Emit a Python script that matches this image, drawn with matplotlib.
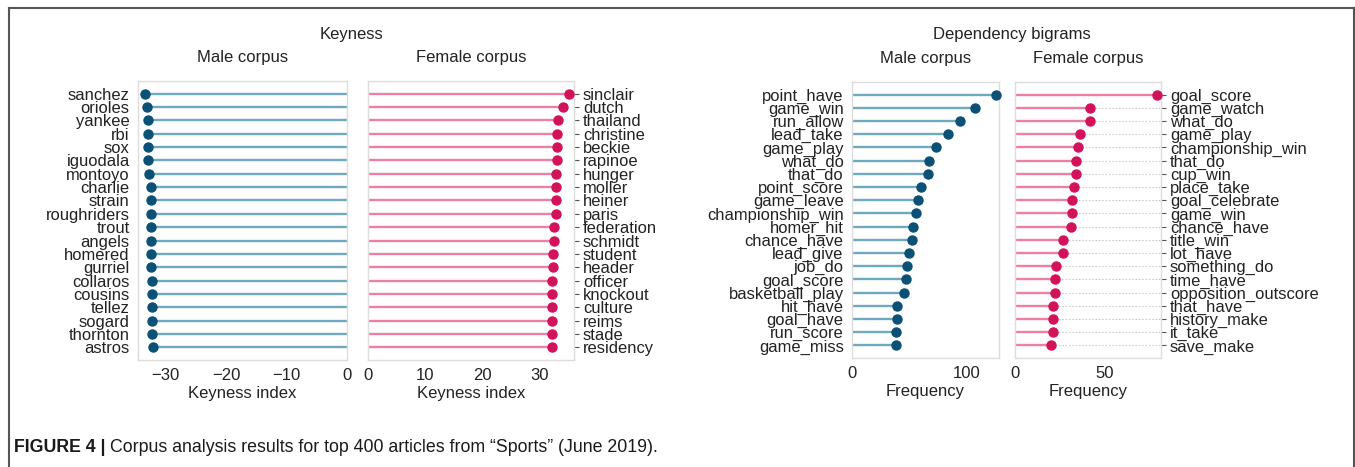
import matplotlib.pyplot as plt
from matplotlib.lines import Line2D
import numpy as np

plt.rcParams['font.family'] = ['Liberation Sans', 'DejaVu Sans']

# Keyness, male corpus
male_words = ['sanchez', 'orioles', 'yankee', 'rbi', 'sox', 'iguodala', 'montoyo',
              'charlie', 'strain', 'roughriders', 'trout', 'angels', 'homered',
              'gurriel', 'collaros', 'cousins', 'tellez', 'sogard', 'thornton', 'astros']
male_keyness = [-33.4, -33.1, -33.0, -33.0, -32.9, -32.9, -32.7, -32.5, -32.5, -32.5,
                -32.5, -32.5, -32.4, -32.4, -32.3, -32.3, -32.3, -32.3, -32.3, -32.1]

# Keyness, female corpus
female_words = ['sinclair', 'dutch', 'thailand', 'christine', 'beckie', 'rapinoe',
                'hunger', 'moller', 'heiner', 'paris', 'federation', 'schmidt',
                'student', 'header', 'officer', 'knockout', 'culture', 'reims',
                'stade', 'residency']
female_keyness = [35.2, 34.2, 33.3, 33.1, 33.1, 33.1, 33.0, 32.9, 32.9, 32.9,
                  32.6, 32.6, 32.5, 32.5, 32.3, 32.3, 32.3, 32.3, 32.3, 32.2]

# Dependency bigrams, male corpus
male_bigrams = ['point_have', 'game_win', 'run_allow', 'lead_take', 'game_play',
                'what_do', 'that_do', 'point_score', 'game_leave', 'championship_win',
                'homer_hit', 'chance_have', 'lead_give', 'job_do', 'goal_score',
                'basketball_play', 'hit_have', 'goal_have', 'run_score', 'game_miss']
male_freq = [126, 107, 94, 84, 73, 67, 66, 60, 58, 56, 53, 52, 50, 48, 47, 45, 39, 39, 38, 38]

# Dependency bigrams, female corpus
female_bigrams = ['goal_score', 'game_watch', 'what_do', 'game_play', 'championship_win',
                  'that_do', 'cup_win', 'place_take', 'goal_celebrate', 'game_win',
                  'chance_have', 'title_win', 'lot_have', 'something_do', 'time_have',
                  'opposition_outscore', 'that_have', 'history_make', 'it_take', 'save_make']
female_freq = [79, 42, 42, 36, 35, 34, 34, 33, 32, 32, 31, 27, 27, 23, 22, 22, 21, 21, 21, 20]

MALE_LINE, MALE_DOT = '#6fa9c0', '#0b5176'
FEM_LINE, FEM_DOT = '#ec7fa5', '#d2125a'
TICK_FS = 11.9
LAB_FS = 12


def lollipop(ax, labels, values, line_c, dot_c, xlim, side, xlabel, xticks, title, grid=False):
    y = np.arange(len(labels))
    ax.hlines(y, 0, values, color=line_c, lw=1.7, zorder=2)
    ax.plot(values, y, 'o', color=dot_c, ms=6.5, zorder=3, clip_on=False)
    ax.set_xlim(*xlim)
    ax.set_ylim(len(labels) - 1 + 0.95, -0.95)
    ax.set_yticks(y)
    ax.set_yticklabels(labels, fontsize=TICK_FS, color='#222222')
    ax.set_xticks(xticks)
    ax.tick_params(axis='x', length=0, pad=6, labelsize=LAB_FS, labelcolor='#222222')
    if side == 'right':
        ax.yaxis.tick_right()
        ax.tick_params(axis='y', length=3.5, width=0.8, color='#555555', pad=3)
    else:
        ax.tick_params(axis='y', length=0, pad=6)
    for s in ax.spines.values():
        s.set_color('#dddddd')
        s.set_linewidth(1.0)
    if grid:
        ax.grid(axis='y', color='#cccccc', ls=(0, (1.5, 1.5)), lw=0.8, zorder=1)
        ax.set_axisbelow(True)
    ax.set_xlabel(xlabel, fontsize=LAB_FS, color='#222222', labelpad=2)
    ax.set_title(title, fontsize=LAB_FS, color='#222222', pad=14)


fig = plt.figure(figsize=(13.55, 4.67), dpi=100)
W, H = 1355.0, 467.0


def box(l, r, t, b):
    return [l / W, 1 - b / H, (r - l) / W, (b - t) / H]


ax1 = fig.add_axes(box(138, 347, 81, 360))
ax2 = fig.add_axes(box(368, 574, 81, 360))
ax3 = fig.add_axes(box(852, 999, 82, 358))
ax4 = fig.add_axes(box(1015, 1161, 82, 358))

lollipop(ax1, male_words, male_keyness, MALE_LINE, MALE_DOT, (-34.6, 0), 'left',
         'Keyness index', [-30, -20, -10, 0], 'Male corpus')
lollipop(ax2, female_words, female_keyness, FEM_LINE, FEM_DOT, (0, 36.1), 'right',
         'Keyness index', [0, 10, 20, 30], 'Female corpus')
lollipop(ax3, male_bigrams, male_freq, MALE_LINE, MALE_DOT, (0, 128.3), 'left',
         'Frequency', [0, 100], 'Male corpus')
lollipop(ax4, female_bigrams, female_freq, FEM_LINE, FEM_DOT, (0, 81.3), 'right',
         'Frequency', [0, 50], 'Female corpus', grid=True)

fig.text(352 / W, 1 - 34 / H, 'Keyness', ha='center', va='center', fontsize=LAB_FS, color='#222222')
fig.text(1012 / W, 1 - 35 / H, 'Dependency bigrams', ha='center', va='center', fontsize=LAB_FS, color='#222222')

# frame around the figure (top, left, right)
for xs, ys in [([9 / W, 1354 / W], [1 - 8 / H, 1 - 8 / H]),
               ([9 / W, 9 / W], [1 - 8 / H, 0]),
               ([1354 / W, 1354 / W], [1 - 8 / H, 0])]:
    fig.add_artist(Line2D(xs, ys, transform=fig.transFigure, color='#555555', lw=1.5))

# caption
cap_font = ['Liberation Sans', 'DejaVu Sans']
t1 = fig.text(14 / W, 1 - 447 / H, 'FIGURE 4 |', fontsize=12.8, fontweight='bold',
              family=cap_font, va='center', ha='left', color='#1a1a1a')
fig.canvas.draw()
bb = t1.get_window_extent()
fig.text((bb.x1 + 4) / W, 1 - 447 / H,
         'Corpus analysis results for top 400 articles from \u201cSports\u201d (June 2019).',
         fontsize=12.8, family=cap_font, va='center', ha='left', color='#1a1a1a')

fig.savefig('out.png', dpi=100)
